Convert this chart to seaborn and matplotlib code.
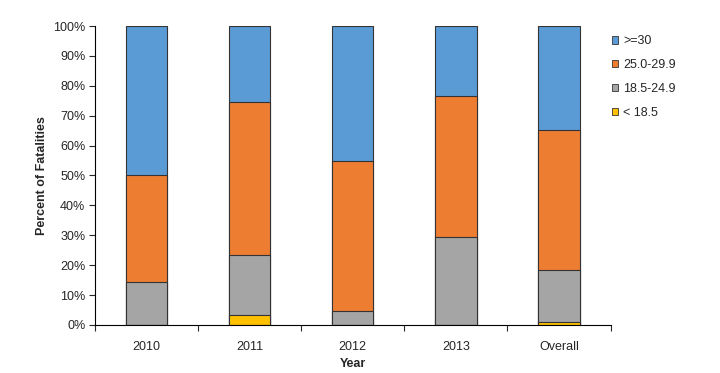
import pandas as pd
import numpy as np
import matplotlib
matplotlib.use("Agg")
import matplotlib.pyplot as plt
import matplotlib.ticker as mticker
from matplotlib.patches import Patch
import seaborn as sns

sns.set_style("white")
plt.rcParams['font.family'] = ['Liberation Sans', 'DejaVu Sans']

# Data (percent of fatalities by BMI group)
years = ['2010', '2011', '2012', '2013', 'Overall']
under_18_5 = [0.0, 3.4, 0.0, 0.0, 1.0]
bmi_18_5_24_9 = [14.3, 20.0, 4.8, 29.4, 17.4]
bmi_25_29_9 = [35.7, 51.1, 50.0, 47.1, 46.8]
bmi_30_plus = [50.0, 25.5, 45.2, 23.5, 34.8]

groups = ['< 18.5', '18.5-24.9', '25.0-29.9', '>=30']
colors = ['#FFC000', '#A5A5A5', '#ED7D31', '#5B9BD5']

df = pd.DataFrame({'Year': years, '< 18.5': under_18_5, '18.5-24.9': bmi_18_5_24_9,
                   '25.0-29.9': bmi_25_29_9, '>=30': bmi_30_plus})
cum = df[groups].cumsum(axis=1)

fig = plt.figure(figsize=(7.2, 3.73), dpi=100)
ax = fig.add_axes([0.132, 0.129, 0.716, 0.801])

# draw tallest cumulative layer first so lower layers sit on top
for g, c in reversed(list(zip(groups, colors))):
    sns.barplot(x=df['Year'], y=cum[g], color=c, width=0.4, edgecolor='#333333',
                linewidth=0.8, saturation=1, ax=ax)

ax.set_ylim(0, 100)
ax.set_xlim(-0.5, 4.5)
ax.yaxis.set_major_locator(mticker.MultipleLocator(10))
ax.yaxis.set_major_formatter(mticker.FuncFormatter(lambda v, p: f'{int(v)}%'))
ax.set_ylabel('Percent of Fatalities', fontsize=9, fontweight='bold')
ax.set_xlabel('Year', fontsize=9, fontweight='bold', labelpad=4)
ax.tick_params(axis='both', labelsize=9)
ax.tick_params(axis='y', left=True, length=4, width=0.8, pad=3)
ax.tick_params(axis='x', which='major', bottom=False, pad=8)
ax.set_xticks(np.arange(-0.5, 5, 1), minor=True)
ax.tick_params(axis='x', which='minor', bottom=True, length=4, width=0.8)
sns.despine(ax=ax)
for s in ['left', 'bottom']:
    ax.spines[s].set_color('black')
    ax.spines[s].set_linewidth(0.8)

handles = [Patch(facecolor=c, edgecolor='#333333', linewidth=0.6, label=g)
           for g, c in zip(groups, colors)][::-1]
fig.legend(handles=handles, loc='upper left', bbox_to_anchor=(0.834, 0.935),
           frameon=False, fontsize=9, handlelength=0.5, handleheight=0.5,
           handletextpad=0.4, labelspacing=0.95)

fig.savefig('out.png', dpi=100)
